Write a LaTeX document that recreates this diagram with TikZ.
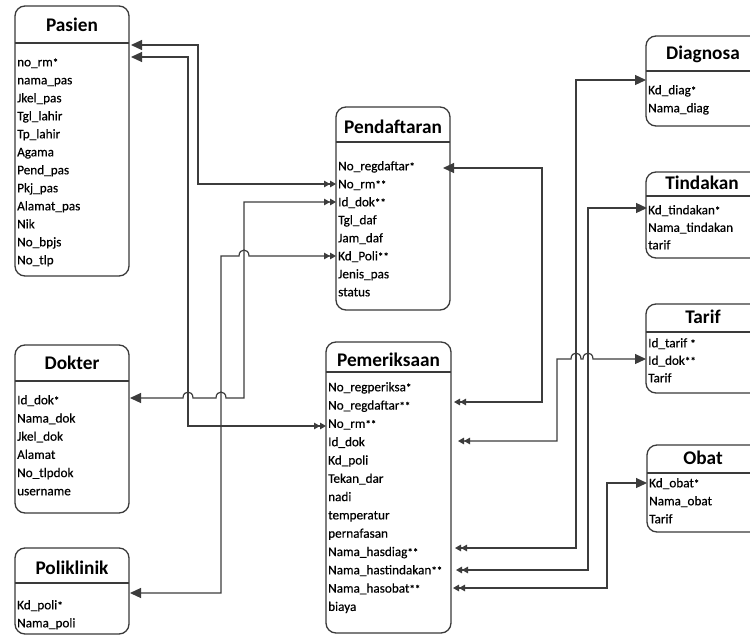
\documentclass[tikz,border=0pt]{standalone}
\usepackage{fontspec}
\setmainfont{Carlito}
\newfontfamily\fieldfont{Carlito}[FakeBold=0.35]
\usetikzlibrary{arrows.meta,calc}

\definecolor{ink}{HTML}{3A3A3A}
\definecolor{wirec}{HTML}{3C3C3C}

% primary / foreign key marks
\newcommand{\keyp}{{\fontsize{11}{11}\selectfont*}}
\newcommand{\keyf}{{\fontsize{11}{11}\selectfont**}}

% field rows of an entity: prefix, left x, first row centre, row step, list
\newcommand{\erfields}[5]{%
  \foreach \fname [count=\i] in {#5} {%
    \node[fld] (#1-f\i) at (#2,{#3+(\i-1)*#4+4.3}) {\fname};
  }%
}

\tikzset{
  entity/.style={draw=ink, line width=1.3pt, rounded corners=10pt, fill=white,
                 anchor=north west, inner sep=0pt, outer sep=0pt},
  divider/.style={draw=ink, line width=1.3pt},
  ttl/.style={font=\fontsize{19.3}{22}\selectfont\bfseries, text=black,
              inner sep=0pt, anchor=base},
  fld/.style={font=\fieldfont\fontsize{13.2}{15}\selectfont, text=black,
              inner sep=0pt, anchor=base west},
  wire/.style={draw=wirec, line width=1.2pt},
  tone/.tip={Triangle[length=11pt,width=10pt]},
  tmany/.tip={Triangle[length=6pt,width=6.5pt]Triangle[length=6pt,width=6.5pt]},
}

\begin{document}
\begin{tikzpicture}[x=1pt,y=-1pt]
\fill[white] (0,0) rectangle (750,637);
\useasboundingbox (0,0) rectangle (750,637);

% ---------- entities ----------
% Pasien
\node[entity, minimum width=114pt, minimum height=270pt] (pasien) at (15,6) {};
\draw[divider] (15,43) -- (129,43);
\node[ttl] (pasien-t) at (72,31.5) {Pasien};
\erfields{pas}{17}{62}{18}{no\_rm\keyp, nama\_pas, Jkel\_pas, Tgl\_lahir, Tp\_lahir, Agama, Pend\_pas, Pkj\_pas, Alamat\_pas, Nik, No\_bpjs, No\_tlp}

% Pendaftaran
\node[entity, minimum width=114pt, minimum height=203pt] (pendaftaran) at (336,107) {};
\draw[divider] (336,142) -- (450,142);
\node[ttl] (pendaftaran-t) at (393,133) {Pendaftaran};
\erfields{pdf}{338}{166}{18}{No\_regdaftar\keyp, No\_rm\keyf, Id\_dok\keyf, Tgl\_daf, Jam\_daf, Kd\_Poli\keyf, Jenis\_pas, status}

% Dokter
\node[entity, minimum width=114pt, minimum height=168pt] (dokter) at (15,345) {};
\draw[divider] (15,381) -- (129,381);
\node[ttl] (dokter-t) at (72,369.5) {Dokter};
\erfields{dok}{17}{400}{18.2}{Id\_dok\keyp, Nama\_dok, Jkel\_dok, Alamat, No\_tlpdok, username}

% Poliklinik
\node[entity, minimum width=114pt, minimum height=86pt] (poliklinik) at (15,548) {};
\draw[divider] (15,583) -- (129,583);
\node[ttl] (poliklinik-t) at (72,574.5) {Poliklinik};
\erfields{pol}{17}{605}{18}{Kd\_poli\keyp, Nama\_poli}

% Pemeriksaan
\node[entity, minimum width=125pt, minimum height=291pt] (pemeriksaan) at (326,342) {};
\draw[divider] (326,372) -- (451,372);
\node[ttl] (pemeriksaan-t) at (388.5,366.5) {Pemeriksaan};
\erfields{pxm}{328}{387}{18.3}{No\_regperiksa\keyp, No\_regdaftar\keyf, No\_rm\keyf, Id\_dok, Kd\_poli, Tekan\_dar, nadi, temperatur, pernafasan, Nama\_hasdiag\keyf, Nama\_hastindakan\keyf, Nama\_hasobat\keyf, biaya}

% Diagnosa
\node[entity, minimum width=116pt, minimum height=90pt] (diagnosa) at (646,36) {};
\draw[divider] (646,71) -- (762,71);
\node[ttl] (diagnosa-t) at (703,59.5) {Diagnosa};
\erfields{dia}{648}{90}{18}{Kd\_diag\keyp, Nama\_diag}

% Tindakan
\node[entity, minimum width=116pt, minimum height=86pt] (tindakan) at (646,172) {};
\draw[divider] (646,196) -- (762,196);
\node[ttl] (tindakan-t) at (702,189.5) {Tindakan};
\erfields{tin}{648}{210}{17.5}{Kd\_tindakan\keyp, Nama\_tindakan, tarif}

% Tarif
\node[entity, minimum width=116pt, minimum height=89pt] (tarif) at (646,304) {};
\draw[divider] (646,332) -- (762,332);
\node[ttl] (tarif-t) at (703,323.5) {Tarif};
\erfields{tar}{648}{343}{17.5}{Id\_tarif \keyp, Id\_dok\keyf, Tarif}

% Obat
\node[entity, minimum width=115pt, minimum height=87pt] (obat) at (647,445) {};
\draw[divider] (647,473) -- (762,473);
\node[ttl] (obat-t) at (703,464.5) {Obat};
\erfields{obt}{649}{483}{18}{Kd\_obat\keyp, Nama\_obat, Tarif}

% ---------- connector end points ----------
\coordinate (pas-a)   at (131,45);
\coordinate (pas-b)   at (131,57);
\coordinate (dok-in)  at (130,398);
\coordinate (pol-in)  at (130,593);
\coordinate (pdf-rm)  at (336,184);
\coordinate (pdf-dok) at (336,202);
\coordinate (pdf-pol) at (336,256);
\coordinate (pdf-reg) at (443,168);
\coordinate (pxm-rm)  at (326,426);
\coordinate (pxm-reg) at (454,402);
\coordinate (pxm-dok) at (458,441);
\coordinate (pxm-dia) at (455,548);
\coordinate (pxm-tin) at (456,570);
\coordinate (pxm-obt) at (453,588);
\coordinate (dia-in)  at (646,80);
\coordinate (tin-in)  at (647,208);
\coordinate (tar-in)  at (646,359);
\coordinate (obt-in)  at (647,483);

% ---------- connectors ----------
% Pasien -> Pendaftaran
\draw[wire, {tone}-{tmany}] (pas-a) -- (198,45) |- (pdf-rm);
% Pasien -> Pemeriksaan
\draw[wire, {tone}-{tmany}] (pas-b) -- (188,57) |- (pxm-rm);
% Dokter -> Pendaftaran (hops over two verticals)
\draw[wire, {tone}-{tmany}] (dok-in) -- (183,398)
  .. controls (183,390) and (193,390) .. (193,398) -- (216,398)
  .. controls (216,390) and (226,390) .. (226,398) -- (244,398) |- (pdf-dok);
% Poliklinik -> Pendaftaran
\draw[wire, {tone}-{tmany}] (pol-in) -- (221,593) -- (221,256) -- (239,256)
  .. controls (239,248) and (249,248) .. (249,256) -- (pdf-pol);
% Pendaftaran -> Pemeriksaan
\draw[wire, {tone}-{tmany}] (pdf-reg) -- (542,168) |- (pxm-reg);
% Pemeriksaan -> Tarif
\draw[wire, {tmany}-{tone}] (pxm-dok) -- (557,441) -- (557,359) -- (571,359)
  .. controls (571,351) and (581,351) .. (581,359) -- (583,359)
  .. controls (583,351) and (593,351) .. (593,359) -- (tar-in);
% Pemeriksaan -> Diagnosa / Tindakan / Obat
\draw[wire, {tmany}-{tone}] (pxm-dia) -- (576,548) |- (dia-in);
\draw[wire, {tmany}-{tone}] (pxm-tin) -- (588,570) |- (tin-in);
\draw[wire, {tmany}-{tone}] (pxm-obt) -- (607,588) |- (obt-in);
\end{tikzpicture}
\end{document}
